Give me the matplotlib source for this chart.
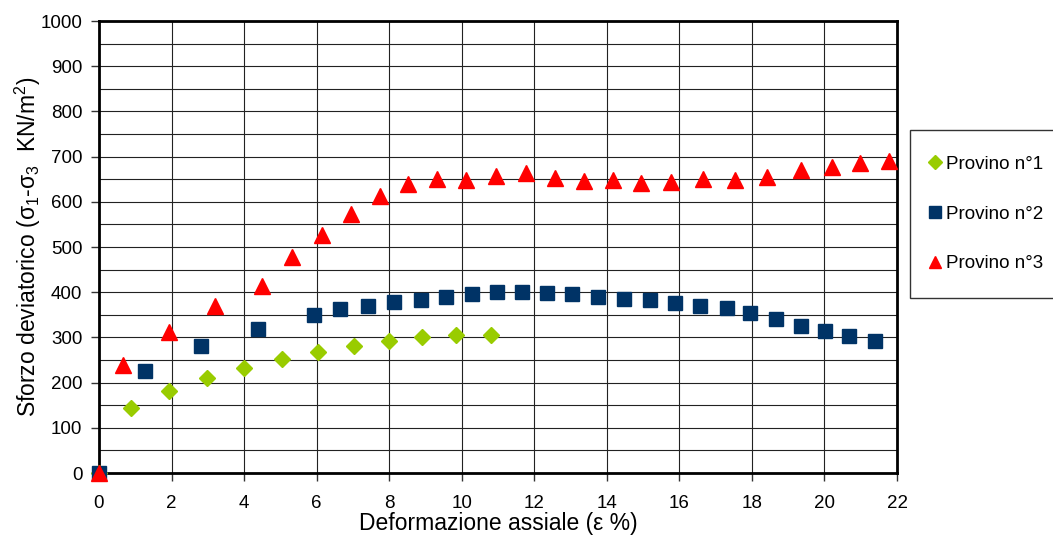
import matplotlib.pyplot as plt
from matplotlib.patches import Rectangle
from matplotlib.ticker import MultipleLocator

plt.rcParams['font.family'] = ['Liberation Sans', 'DejaVu Sans']
plt.rcParams['mathtext.fontset'] = 'custom'
plt.rcParams['mathtext.rm'] = 'Liberation Sans'
plt.rcParams['mathtext.it'] = 'Liberation Sans'

# Provino n°1
eps1 = [0, 0.87, 1.94, 2.99, 4.01, 5.04, 6.05, 7.02, 7.99, 8.91, 9.84, 10.80]
dev1 = [0, 143, 181, 211, 233, 253, 268, 281, 292, 300, 305, 305]

# Provino n°2
eps2 = [0, 1.28, 2.82, 4.38, 5.92, 6.65, 7.42, 8.14, 8.87, 9.57, 10.28, 10.96,
        11.66, 12.35, 13.05, 13.76, 14.47, 15.18, 15.88, 16.58, 17.30, 17.96,
        18.66, 19.35, 20.01, 20.68, 21.38]
dev2 = [0, 226, 282, 319, 349, 362, 370, 378, 383, 389, 395, 401,
        400, 398, 395, 389, 386, 383, 376, 370, 365, 355,
        340, 326, 314, 302, 291]

# Provino n°3
eps3 = [0, 0.67, 1.92, 3.20, 4.50, 5.33, 6.15, 6.94, 7.74, 8.51, 9.31, 10.13,
        10.94, 11.76, 12.58, 13.38, 14.17, 14.95, 15.77, 16.64, 17.53, 18.42,
        19.34, 20.20, 20.99, 21.77]
dev3 = [0, 239, 313, 370, 414, 478, 527, 572, 613, 639, 650, 648,
        657, 663, 653, 647, 648, 642, 644, 650, 648, 655,
        670, 678, 685, 690]

fig = plt.figure(figsize=(10.53, 5.41), dpi=100)
ax = fig.add_axes([99 / 1053, 68 / 541, 798 / 1053, 452 / 541])

ax.plot(eps1, dev1, ls='none', marker='D', ms=8, color='#99CC00',
        label='Provino n°1', clip_on=False, zorder=3)
ax.plot(eps2, dev2, ls='none', marker='s', ms=10, color='#003366',
        label='Provino n°2', clip_on=False, zorder=3)
ax.plot(eps3, dev3, ls='none', marker='^', ms=11, color='#FF0000',
        label='Provino n°3', clip_on=False, zorder=4)

ax.set_xlim(0, 22)
ax.set_ylim(0, 1000)
ax.xaxis.set_major_locator(MultipleLocator(2))
ax.yaxis.set_major_locator(MultipleLocator(100))
ax.yaxis.set_minor_locator(MultipleLocator(50))
ax.grid(which='both', color='#222222', lw=0.8)
ax.tick_params(axis='y', which='minor', length=0)
ax.tick_params(axis='both', which='major', labelsize=13.5, length=6,
               width=1, color='#333333', pad=6)
ax.tick_params(axis='x', which='major', pad=10)

for s in ax.spines.values():
    s.set_linewidth(2)
    s.set_color('black')

ax.set_xlabel('Deformazione assiale (ε %)', fontsize=16.5, labelpad=0)
ax.set_ylabel('Sforzo deviatorico (σ$_1$-σ$_3$  KN/m$^2$)', fontsize=16.5, labelpad=-2)

# legend box runs off the right edge of the picture
fig.patches.append(Rectangle((910 / 1053, (541 - 298) / 541), 0.2, 168 / 541,
                             transform=fig.transFigure, facecolor='white',
                             edgecolor='#333333', lw=1.0, zorder=0))
leg = fig.legend(loc='center left', bbox_to_anchor=(928 / 1053, (541 - 214) / 541),
                 fontsize=13.5, frameon=False,
                 labelspacing=1.75, handlelength=0.7, handletextpad=0.25,
                 borderpad=0, borderaxespad=0)
for h in leg.legend_handles:
    h.set_markersize(h.get_markersize() * 0.85)

fig.savefig('out.png', dpi=100)
